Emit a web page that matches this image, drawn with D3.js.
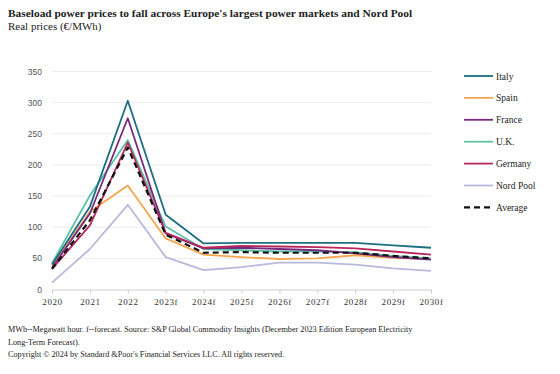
<!DOCTYPE html>
<html>
<head>
<meta charset="utf-8">
<script src="https://cdn.jsdelivr.net/npm/d3@7"></script>
<style>
  body { margin: 0; background: #fff; }
  svg text { fill: #222; }
</style>
</head>
<body>
<svg id="chart" width="560" height="374"></svg>
<script>
var years = ["2020", "2021", "2022", "2023f", "2024f", "2025f", "2026f", "2027f", "2028f", "2029f", "2030f"];
var yTicks = [0, 50, 100, 150, 200, 250, 300, 350];

var italy    = [40, 133, 303, 120, 74, 75, 75, 75, 75, 71, 67];
var spain    = [38, 125, 167, 82, 56, 52, 49, 50, 55, 51, 49];
var france   = [35, 122, 275, 90, 66, 67, 65, 63, 58, 52, 48];
var uk       = [42, 151, 240, 101, 65, 63, 61, 61, 60, 54, 50];
var germany  = [33, 103, 236, 91, 67, 70, 69, 68, 66, 61, 56];
var nordPool = [11, 65, 136, 52, 31, 36, 43, 43, 40, 34, 30];
var average  = [33, 111, 228, 88, 59, 60, 59, 59, 59, 54, 50];

var seriesNames = ["Italy", "Spain", "France", "U.K.", "Germany", "Nord Pool", "Average"];
var seriesValues = [italy, spain, france, uk, germany, nordPool, average];
var seriesColors = ["#1b6f80", "#f3a64e", "#762a80", "#5ec2a6", "#b8285a", "#b9b8dd", "#111111"];

var svg = d3.select("#chart");
var serif = "'Liberation Serif', 'Times New Roman', serif";
var sans = "'Liberation Sans', Arial, sans-serif";

// titles
svg.append("text").attr("x", 8).attr("y", 17)
  .style("font-family", serif).style("font-size", "11.4px").style("font-weight", "bold")
  .text("Baseload power prices to fall across Europe's largest power markets and Nord Pool");
svg.append("text").attr("x", 8).attr("y", 30)
  .style("font-family", serif).style("font-size", "11px")
  .text("Real prices (€/MWh)");

var x = d3.scalePoint().domain(years).range([52, 431]);
var y = d3.scaleLinear().domain([0, 350]).range([289.5, 71.5]);

// gridlines
svg.append("g").selectAll("line").data(yTicks.slice(1)).enter().append("line")
  .attr("x1", 52).attr("x2", 431)
  .attr("y1", function (d) { return y(d); }).attr("y2", function (d) { return y(d); })
  .style("stroke", "#ebebeb").style("stroke-width", 1);

// y axis labels
svg.append("g").selectAll("text").data(yTicks).enter().append("text")
  .attr("x", 42).attr("y", function (d) { return y(d) + 3; })
  .attr("text-anchor", "end")
  .style("font-family", sans).style("font-size", "8.5px").style("fill", "#555")
  .text(function (d) { return d; });

// x axis
var xAxis = svg.append("g")
  .attr("transform", "translate(0," + y(0) + ")")
  .call(d3.axisBottom(x).tickSize(4).tickPadding(5));
xAxis.select(".domain").style("stroke", "#cfcfcf");
xAxis.selectAll(".tick line").style("stroke", "#cfcfcf");
xAxis.selectAll("text").style("font-family", serif).style("font-size", "9px")
  .style("letter-spacing", "0.6px").style("fill", "#333");

var line = d3.line()
  .x(function (d, i) { return x(years[i]); })
  .y(function (d) { return y(d); });

// draw lines; Nord Pool first, average on top
var order = [5, 1, 3, 2, 4, 0, 6];
order.forEach(function (k) {
  svg.append("path")
    .datum(seriesValues[k])
    .attr("d", line)
    .style("fill", "none")
    .style("stroke", seriesColors[k])
    .style("stroke-width", k == 6 ? 2.2 : 1.8)
    .style("stroke-dasharray", k == 6 ? "6,4" : null)
    .style("stroke-linejoin", "round");
});

// legend
var legend = svg.append("g").selectAll("g").data(seriesNames).enter().append("g")
  .attr("transform", function (d, i) { return "translate(464," + (76 + i * 21.9) + ")"; });
legend.append("line")
  .attr("x1", 0).attr("x2", 29).attr("y1", 0).attr("y2", 0)
  .style("stroke", function (d, i) { return seriesColors[i]; })
  .style("stroke-width", function (d, i) { return i == 6 ? 2.2 : 1.8; })
  .style("stroke-dasharray", function (d, i) { return i == 6 ? "6,4" : null; });
legend.append("text")
  .attr("x", 32).attr("y", 3.5)
  .style("font-family", serif).style("font-size", "9.5px")
  .text(function (d) { return d; });

// footnotes
var notes = [
  "MWh--Megawatt hour. f--forecast. Source: S&P Global Commodity Insights (December 2023 Edition European Electricity",
  "Long-Term Forecast).",
  "Copyright © 2024 by Standard &Poor's Financial Services LLC. All rights reserved."
];
svg.append("g").selectAll("text").data(notes).enter().append("text")
  .attr("x", 8).attr("y", function (d, i) { return 332 + i * 12.5; })
  .style("font-family", serif).style("font-size", "8.2px")
  .text(function (d) { return d; });
</script>
</body>
</html>
